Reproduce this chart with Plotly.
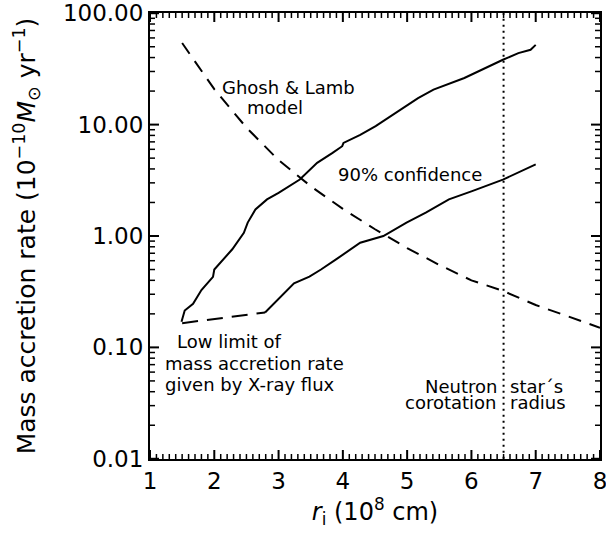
import math
import plotly.graph_objects as go

# Ghosh & Lamb model (dashed)
gl_x = [1.5, 2.0, 2.5, 3.0, 3.5, 4.0, 4.5, 5.0, 5.5, 6.0, 6.5, 7.0, 7.5, 8.0]
gl_y = [54, 20.8, 9.4, 4.8, 2.8, 1.75, 1.15, 0.78, 0.55, 0.40, 0.32, 0.24, 0.19, 0.15]

# Upper 90% confidence boundary (solid)
up_x = [1.49, 1.54, 1.67, 1.80, 1.98, 2.0, 2.28, 2.46, 2.52, 2.64, 2.82, 3.0, 3.33, 3.60,
        3.84, 3.99, 4.01, 4.27, 4.51, 4.81, 5.17, 5.41, 5.89, 6.49, 6.73, 6.92, 7.0]
up_y = [0.17, 0.214, 0.246, 0.327, 0.43, 0.50, 0.76, 1.07, 1.32, 1.73, 2.13, 2.44, 3.21, 4.54,
        5.57, 6.4, 6.85, 8.1, 9.7, 12.7, 17.3, 20.6, 26.2, 38.2, 43.8, 47.0, 52.0]

# Lower 90% confidence boundary (solid)
lo_x = [2.79, 3.0, 3.24, 3.48, 3.66, 3.90, 4.27, 4.63, 4.99, 5.29, 5.65, 6.01, 6.49, 7.0]
lo_y = [0.206, 0.274, 0.376, 0.432, 0.50, 0.62, 0.87, 1.0, 1.32, 1.62, 2.13, 2.53, 3.21, 4.39]

# Low limit from X-ray flux (dashed)
ll_x = [1.5, 2.79]
ll_y = [0.165, 0.206]

# Corotation radius
corot_x = 6.5
y_range = [0.01, 100]
x_range = [1, 8]

xticks = [1, 2, 3, 4, 5, 6, 7, 8]
yticks = [0.01, 0.1, 1, 10, 100]
yticktext = ["0.01", "0.10", "1.00", "10.00", "100.00"]

FONT = "DejaVu Sans"
LW = 2
W, H = 606, 538
ML, MR, MT, MB = 150, 6, 13, 79
YR = [math.log10(y_range[0]) - 0.002, math.log10(y_range[1]) + 0.002]

fig = go.Figure()
fig.add_trace(go.Scatter(x=gl_x, y=gl_y, mode="lines",
                         line=dict(color="black", width=LW, dash="13px,9px")))
fig.add_trace(go.Scatter(x=up_x, y=up_y, mode="lines",
                         line=dict(color="black", width=LW)))
fig.add_trace(go.Scatter(x=lo_x, y=lo_y, mode="lines",
                         line=dict(color="black", width=LW)))
fig.add_trace(go.Scatter(x=ll_x, y=ll_y, mode="lines",
                         line=dict(color="black", width=LW, dash="16px,9px")))
fig.add_trace(go.Scatter(x=[corot_x, corot_x], y=y_range, mode="lines",
                         line=dict(color="black", width=LW, dash="2px,4px")))

# Inside tick marks on all four sides: one short two-point line trace per tick
px_per_x = (W - ML - MR) / (x_range[1] - x_range[0])
px_per_dec = (H - MT - MB) / (YR[1] - YR[0])
y_lo, y_hi = 10 ** YR[0], 10 ** YR[1]
x_minor = [round(x_range[0] + i * 0.1, 2) for i in range(int((x_range[1] - x_range[0]) * 10) + 1)]
x_minor = [v for v in x_minor if abs(v - round(v)) > 1e-6]
y_minor = [d * m for d in yticks[:-1] for m in range(2, 10)]

def tick(xs, ys, w):
    fig.add_trace(go.Scatter(x=xs, y=ys, mode="lines", line=dict(color="black", width=w),
                             hoverinfo="skip"))

for vals, L, w in [(xticks, 9, 2), (x_minor, 5, 1.5)]:
    f = 10 ** (L / px_per_dec)
    for v in vals:
        tick([v, v], [y_lo, y_lo * f], w)
        tick([v, v], [y_hi, y_hi / f], w)

for vals, L, w in [(yticks, 9, 2), (y_minor, 5, 1.5)]:
    d = L / px_per_x
    for v in vals:
        tick([x_range[0], x_range[0] + d], [v, v], w)
        tick([x_range[1], x_range[1] - d], [v, v], w)

ann_font = dict(family=FONT, size=18, color="black")
anns = [
    dict(x=2.09, y=21.7, text="Ghosh &amp; Lamb", xanchor="left"),
    dict(x=2.94, y=14.2, text="model", xanchor="center"),
    dict(x=5.05, y=3.54, text="90% confidence", xanchor="center"),
    dict(x=1.39, y=0.112, text="Low limit of", xanchor="left"),
    dict(x=1.207, y=0.0721, text="mass accretion rate", xanchor="left"),
    dict(x=1.207, y=0.0468, text="given by X-ray flux", xanchor="left"),
    dict(x=6.43, y=0.0450, text="Neutron", xanchor="right"),
    dict(x=6.43, y=0.0321, text="corotation", xanchor="right"),
    dict(x=6.57, y=0.0450, text="star\u00b4s", xanchor="left"),
    dict(x=6.57, y=0.0321, text="radius", xanchor="left"),
]
for a in anns:
    fig.add_annotation(x=a["x"], y=math.log10(a["y"]), yref="y", xref="x", text=a["text"],
                       xanchor=a["xanchor"], yanchor="middle", showarrow=False,
                       font=ann_font)

fig.update_xaxes(range=x_range, tickmode="array", tickvals=xticks,
                 showgrid=False, zeroline=False, showline=True, linecolor="black",
                 linewidth=2, mirror=True, ticks="", automargin=False,
                 ticklabeloverflow="allow",
                 tickfont=dict(family=FONT, size=23, color="black"),
                 title=dict(text="<i>r</i><sub>i</sub> (10<sup>8</sup> cm)",
                            font=dict(family=FONT, size=24, color="black"), standoff=2))
fig.update_yaxes(type="log", range=YR, tickvals=yticks, ticktext=yticktext,
                 showgrid=False, zeroline=False, showline=True, linecolor="black",
                 linewidth=2, mirror=True, ticks="", automargin=False,
                 ticklabeloverflow="allow",
                 tickfont=dict(family=FONT, size=23, color="black"),
                 title=dict(text="Mass accretion rate (10<sup>\u221210</sup><i>M</i><sub>\u2299</sub> yr<sup>\u22121</sup>)",
                            font=dict(family=FONT, size=25, color="black"), standoff=20))

fig.update_layout(width=W, height=H, showlegend=False,
                  plot_bgcolor="white", paper_bgcolor="white",
                  margin=dict(l=ML, r=MR, t=MT, b=MB))
fig.write_html("out.html")
